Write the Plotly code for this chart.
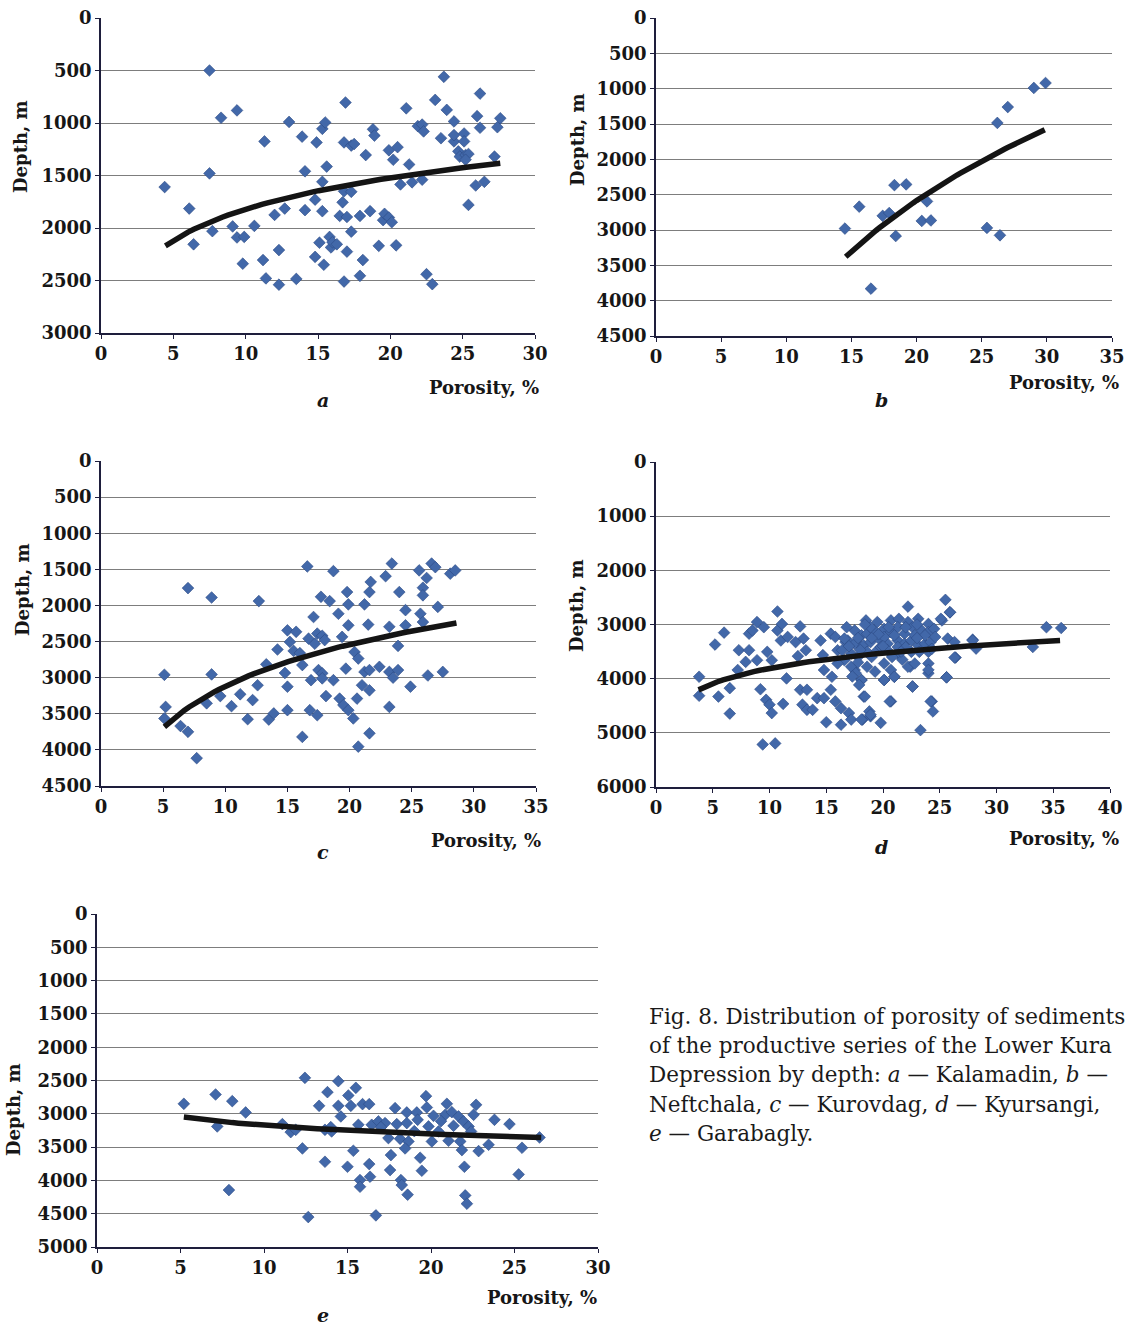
import numpy as np
import plotly.graph_objects as go

# ---------------- DATA ----------------
# Panel a - Kalamadin  (porosity %, depth m)
a_points = [(4.4,1610),(7.5,500),(8.3,950),(9.4,880),(7.5,1480),(6.1,1815),(6.4,2155),(7.7,2030),(9.1,1985),(9.4,2090),
            (9.9,2085),(10.6,1980),(9.8,2340),(11.3,1175),(11.2,2305),(11.4,2480),(12.0,1875),(12.3,2210),(12.3,2540),(12.7,1815),
            (13.0,990),(13.5,2485),(13.9,1130),(14.1,1460),(14.1,1830),(14.9,1185),(14.8,1730),(14.8,2275),(15.1,2140),(15.3,1840),
            (15.3,1560),(15.4,2350),(15.3,1055),(15.5,995),(15.6,1415),(15.8,2085),(15.9,2185),(16.0,2135),(16.3,2155),(16.5,1885),
            (16.8,1185),(16.9,805),(16.7,1755),(16.8,1650),(16.8,2510),(17.0,2225),(17.0,1895),(17.3,2035),(17.3,1655),(17.3,1215),
            (17.5,1200),(17.9,1885),(17.9,2455),(18.1,2305),(18.3,1305),(18.6,1840),(18.8,1060),(18.9,1120),(19.2,2170),(19.5,1925),
            (19.6,1865),(19.9,1900),(20.1,1945),(19.9,1260),(20.2,1350),(20.5,1230),(20.4,2165),(20.7,1585),(21.1,860),(21.3,1395),
            (21.5,1565),(21.9,1030),(22.2,1015),(22.3,1080),(22.2,1540),(22.5,2440),(22.9,2535),(23.1,780),(23.5,1145),(23.7,560),
            (23.9,875),(24.4,985),(24.4,1175),(24.4,1115),(24.7,1270),(24.8,1320),(25.1,1100),(25.1,1175),(25.2,1305),(25.4,1295),
            (25.4,1780),(25.9,1595),(26.0,935),(26.2,720),(26.2,1045),(26.5,1560),(27.2,1320),(27.4,1040),(27.6,955),(25.2,1350)]
a_trend = [2813, -431]          # depth = c0 + c1*ln(porosity)
a_trend_x = [4.45, 27.6]

# Panel b - Neftchala
b_points = [(14.5,2980),(15.6,2670),(16.5,3830),(17.4,2800),(17.9,2760),(18.3,2365),(18.4,3085),(19.2,2355),(20.8,2595),
            (20.4,2872),(21.1,2865),(25.4,2970),(26.4,3075),(26.2,1485),(27.0,1260),(29.0,990),(29.9,920)]
b_trend = [10085, -2504]
b_trend_x = [14.56, 29.84]

# Panel c - Kurovdag
c_points = [(5.1,2960),(5.2,3405),(5.1,3565),(6.4,3670),(7.0,3750),(7.7,4115),(7.0,1760),(8.9,1890),(8.9,2955),(8.5,3355),
            (9.6,3255),(10.5,3395),(11.2,3230),(11.8,3575),(12.2,3310),(12.6,3105),(12.7,1940),(13.3,2815),(13.5,3580),(13.9,3495),
            (14.8,2935),(15.0,2345),(15.7,2365),(15.0,3125),(15.0,3450),(15.2,2505),(15.5,2630),(14.2,2610),(16.2,2825),(16.2,3820),
            (16.6,1460),(16.7,2460),(16.8,3450),(17.1,2160),(17.2,2530),(17.4,2390),(17.7,1880),(17.8,2420),(16.9,3035),(17.5,2895),
            (17.8,2940),(17.8,3010),(17.4,3520),(18.1,3255),(18.4,1940),(18.7,1525),(18.7,3035),(19.1,2115),(19.2,3290),(19.4,2435),
            (19.5,3380),(19.9,2275),(19.9,1985),(19.8,1815),(19.7,2875),(19.9,3450),(20.3,3565),(20.4,2645),(20.7,2735),(20.7,3955),
            (20.6,3290),(21.0,3105),(21.2,1985),(21.2,2920),(21.5,2265),(21.6,1815),(21.7,1675),(21.6,2895),(21.6,3175),(21.6,3770),
            (22.4,2850),(22.9,1595),(23.2,2920),(23.2,2295),(23.2,3405),(23.4,1420),(23.5,3000),(24.0,1815),(23.9,2895),(23.9,2560),
            (24.5,2065),(24.5,2275),(24.9,3125),(25.6,1515),(25.9,1755),(25.9,1860),(25.7,2115),(25.9,2230),(26.2,1620),(26.3,2970),
            (26.6,1420),(26.9,1470),(27.1,2020),(27.5,2920),(28.1,1560),(28.5,1515),(16.0,2660),(18.0,2480)]
c_trend = [5039, -834]
c_trend_x = [5.1, 28.6]

# Panel d - Kyursangi
d_points = [(3.8,3965),(3.8,4315),(5.2,3370),(6.0,3150),(5.5,4330),(6.5,4645),(6.5,4175),(7.2,3840),(7.3,3475),(7.9,3690),
            (8.2,3475),(8.2,3170),(8.5,3110),(8.9,2955),(8.9,3660),(9.2,4195),(9.5,3050),(9.4,5215),(9.7,4390),(9.8,3505),
            (10.0,4480),(10.2,3660),(10.2,4635),(10.5,5195),(10.7,2760),(10.7,3110),(11.1,2990),(11.0,3295),(11.2,4465),(11.5,3995),
            (11.6,3230),(12.3,3325),(12.5,3585),(12.7,3035),(12.7,4205),(13.0,3260),(13.2,3475),(12.9,4480),(13.3,4205),(13.3,4575),
            (13.8,4575),(14.2,4360),(14.5,3295),(14.7,3565),(14.8,3840),(14.8,4360),(15.0,4805),(15.4,3170),(15.4,4205),(15.5,3965),
            (15.8,4420),(16.0,3475),(16.3,4545),(16.3,4850),(16.6,3660),(16.7,3325),(17.0,4635),(17.2,4755),(17.5,3840),(17.8,3355),
            (18.1,4025),(18.2,4755),(18.3,4330),(18.5,2925),(18.8,4605),(18.9,4695),
            (22.2,2670),(25.5,2545),(25.9,2775),(25.2,2925),(25.7,3260),(27.9,3280),(28.2,3445),(26.4,3610),(25.6,3975),(24.0,3720),
            (24.0,3900),(22.6,4145),(24.3,4420),(22.4,3780),(33.2,3415),(34.4,3050),(35.7,3065),(20.7,4420),(18.4,4330),(20.1,4025),
            (21.0,3965),
            (19.5,2955),(20.7,2925),(21.4,2895),(22.2,2955),(23.1,2895),(24.0,2990),(25.1,2895),(25.9,2775),
            (17.5,3110),(18.1,3200),(18.6,3170),(19.2,3110),(20.1,3080),(20.7,3140),(21.3,3050),(21.9,3170),(22.6,3050),(23.4,3110),
            (24.0,3140),(24.5,3080),(16.9,3295),(17.5,3355),(18.3,3385),(18.9,3325),(19.8,3295),(20.4,3355),(21.3,3295),(21.9,3355),
            (22.5,3295),(23.1,3385),(23.7,3355),(24.2,3325),(16.4,3475),(17.2,3535),(17.8,3600),(18.6,3505),(19.5,3475),(20.4,3475),
            (21.3,3535),(22.5,3505),(23.2,3505),(24.0,3505),(16.0,3720),(17.2,3780),(17.6,3900),(18.1,4025),(17.9,4115),(18.6,3780),
            (20.1,3720),(20.7,3840),(22.2,3780),(22.8,3720),(24.0,3840),(15.8,3230),(16.6,3260),(18.9,3050),(20.1,3230),(22.8,3200),
            (23.7,3200),(21.3,3415),(19.8,3415),(26.3,3325),(27.9,3295),(26.3,3610),(25.6,3975),(23.3,4950),(24.2,4420),(24.4,4605),
            (22.6,4145),(20.6,4420),(19.8,4815),(18.9,4665),(18.1,4755),(20.1,4025),(21.0,3965),(17.0,3400),(17.8,3250),(19.0,3600),
            (21.7,3650),(23.0,3000),(19.6,3180),(20.8,3600),(22.0,3420),(16.8,3050),(18.0,3470),(24.6,3230),(17.3,3960),(19.3,3870),
            (18.4,3000),(19.0,3250),(20.0,3400),(21.0,3200),(22.0,3050),(23.0,3250),(24.3,3450),(20.5,3050),(21.6,3500),(17.8,3700)]
d_trend = [4744, -406]
d_trend_x = [3.75, 35.6]

# Panel e - Garabagly
e_points = [(5.2,2850),(7.1,2710),(7.2,3190),(8.1,2810),(8.9,2980),(7.9,4145),(11.1,3155),(11.6,3275),(12.3,3520),(12.45,2460),
            (12.65,4550),(13.3,2880),(13.65,3240),(13.65,3720),(13.8,2675),(14.05,3265),(14.45,2510),(14.45,2880),(14.6,3040),(15.0,3795),
            (15.05,2725),(15.2,2880),(15.5,2610),(15.65,3165),(15.35,3555),(15.75,3995),(15.75,4095),(15.9,2855),(16.3,2855),(16.3,3755),
            (16.35,3945),(16.7,4525),(16.45,3165),(16.85,3115),(17.25,3140),(17.45,3365),(17.55,3845),(17.6,3620),(17.85,2915),(17.95,3155),
            (18.15,3375),(18.2,3995),(18.25,4070),(18.55,2980),(18.55,3140),(18.6,4215),(18.65,3415),(18.45,3520),(19.15,2980),(19.2,3090),
            (19.35,3660),(19.45,3855),(19.7,2735),(19.75,2905),(19.85,3190),(20.05,3415),(20.15,3030),(20.45,3265),(20.85,3015),(20.95,2850),
            (21.05,3405),(21.25,2975),(21.35,3180),(21.65,3040),(21.75,3415),(21.85,3545),(21.95,3115),(22.0,3795),(22.05,4225),(22.15,4350),
            (22.25,3190),(22.55,3015),(22.7,2865),(22.85,3560),(23.45,3465),(23.8,3090),(24.7,3155),(25.45,3510),(25.25,3910),(26.5,3355),
            (22.4,3265),(20.6,3110),(19.0,3260),(17.0,3200),(14.0,3200),(11.9,3240)]
e_trend = [2739, 188]
e_trend_x = [5.2, 26.6]

# axis settings per panel
panel_names = ["a", "b", "c", "d", "e"]
x_max = [30, 35, 35, 40, 30]
y_max = [3000, 4500, 4500, 6000, 5000]
y_step = [500, 500, 500, 1000, 500]

caption_lines = [
    "Fig. 8. Distribution of porosity of sediments",
    "of the productive series of the Lower Kura",
    "Depression by depth: <i>a</i> — Kalamadin, <i>b</i> —",
    "Neftchala, <i>c</i> — Kurovdag, <i>d</i> — Kyursangi,",
    "<i>e</i> — Garabagly.",
]

# ---------------- LAYOUT ----------------
W, H = 1128, 1326
def px(x): return x / W
def py(y): return 1 - y / H

# plot boxes in page pixels (left, right, top, bottom)
boxes = [(101, 535, 18, 333), (656, 1112, 18, 336), (101, 536, 461, 786),
         (656, 1110, 462, 787), (97, 598, 914, 1247)]
depth_lbl = [(20, 147), (578, 140), (22, 590), (577, 605), (13, 1110)]
poro_lbl = [(541, 387), (1121, 383), (543, 840), (1121, 838), (599, 1297)]
letter_lbl = [(323, 400), (881, 400), (323, 852), (881, 847), (323, 1315)]

all_points = [a_points, b_points, c_points, d_points, e_points]
all_trends = [a_trend, b_trend, c_trend, d_trend, e_trend]
all_trend_x = [a_trend_x, b_trend_x, c_trend_x, d_trend_x, e_trend_x]

SERIF = "DejaVu Serif"
fig = go.Figure()
layout = dict(width=W, height=H, margin=dict(l=0, r=0, t=0, b=0, autoexpand=False),
              paper_bgcolor="white", plot_bgcolor="white", showlegend=False)
annotations = []

for i in range(5):
    n = "" if i == 0 else str(i + 1)
    xs, ys = zip(*all_points[i])
    fig.add_trace(go.Scatter(x=xs, y=ys, mode="markers", xaxis="x" + n, yaxis="y" + n,
                             marker=dict(symbol="diamond", size=9, color="#4268a9",
                                         line=dict(color="#2b4a84", width=0.6)),
                             hoverinfo="x+y"))
    tx = np.linspace(all_trend_x[i][0], all_trend_x[i][1], 60)
    ty = all_trends[i][0] + all_trends[i][1] * np.log(tx)
    fig.add_trace(go.Scatter(x=tx, y=ty, mode="lines", xaxis="x" + n, yaxis="y" + n,
                             line=dict(color="#141414", width=5.5), hoverinfo="skip"))
    l, r, t, b = boxes[i]
    common = dict(showline=True, automargin=False, zeroline=False, ticklabeloverflow="allow",
                  linecolor="#1e1e3c", linewidth=1.6, ticks="outside", ticklen=4, tickcolor="#1e1e3c",
                  tickfont=dict(family=SERIF, size=18, color="#161616", weight="bold"))
    layout["xaxis" + n] = dict(domain=[px(l), px(r)], range=[0, x_max[i]], dtick=5, tick0=0,
                               anchor="y" + n, showgrid=False, **common)
    layout["yaxis" + n] = dict(domain=[py(b), py(t)], range=[y_max[i], 0], dtick=y_step[i], tick0=0,
                               anchor="x" + n, showgrid=True, gridcolor="#7d7d7d", gridwidth=1.3,
                               **common)
    dx, dy = depth_lbl[i]
    annotations.append(dict(x=px(dx), y=py(dy), xref="paper", yref="paper", text="<b>Depth, m</b>",
                            textangle=-90, showarrow=False, xanchor="center", yanchor="middle",
                            font=dict(family=SERIF, size=18, color="#161616")))
    qx, qy = poro_lbl[i]
    annotations.append(dict(x=px(qx), y=py(qy), xref="paper", yref="paper", text="<b>Porosity, %</b>",
                            showarrow=False, xanchor="right", yanchor="middle",
                            font=dict(family=SERIF, size=18, color="#161616")))
    lx, ly = letter_lbl[i]
    annotations.append(dict(x=px(lx), y=py(ly), xref="paper", yref="paper",
                            text="<b><i>" + panel_names[i] + "</i></b>",
                            showarrow=False, xanchor="center", yanchor="middle",
                            font=dict(family=SERIF, size=19, color="#161616")))

cap_y = [1016, 1045, 1074, 1104, 1133]
for line, yy in zip(caption_lines, cap_y):
    annotations.append(dict(x=px(647), y=py(yy), xref="paper", yref="paper", text=line,
                            showarrow=False, xanchor="left", yanchor="middle",
                            font=dict(family=SERIF, size=21.5, color="#1a1a1a")))

layout["annotations"] = annotations
fig.update_layout(**layout)
# remove the browser's default body margin so the figure sits at the page origin
fig.write_html("out.html", config={"displayModeBar": False},
               post_script="document.body.style.margin='0';document.documentElement.style.overflow='hidden';")
